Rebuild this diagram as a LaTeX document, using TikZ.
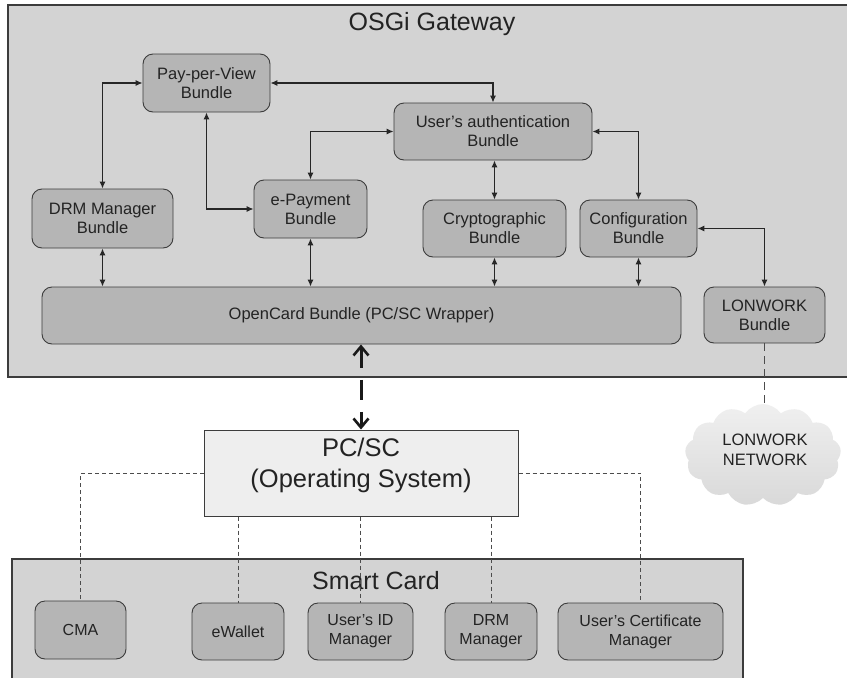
\documentclass[tikz,border=0pt]{standalone}
\usepackage{fontspec}
\setmainfont{Liberation Sans}
\usetikzlibrary{arrows.meta,shapes.symbols}

\definecolor{panelfill}{RGB}{211,211,211}
\definecolor{bundlefill}{RGB}{181,181,181}
\definecolor{osfill}{RGB}{238,238,238}
\definecolor{edgecol}{RGB}{60,60,60}
\definecolor{txtcol}{RGB}{35,35,35}

\tikzset{
  panel/.style={draw=edgecol, line width=1.4pt, fill=panelfill},
  bundle/.style={draw=edgecol, line width=0.9pt, fill=bundlefill, rounded corners=10pt,
    align=center, inner sep=0pt, text=txtcol,
    font=\fontsize{16.5}{19}\selectfont},
  card/.style={bundle, font=\fontsize{16}{19}\selectfont},
  link/.style={draw=black!85, line width=1.1pt,
    {Latex[length=7pt,width=6pt]}-{Latex[length=7pt,width=6pt]}},
  wire/.style={draw=black!70, line width=0.9pt, dash pattern=on 4pt off 3pt},
  bigtitle/.style={text=txtcol, font=\fontsize{25}{28}\selectfont},
  osbarb/.tip={Straight Barb[length=9pt,width=15pt,line width=2.6pt]},
}

\begin{document}
\begin{tikzpicture}[x=1pt,y=-1pt]
\useasboundingbox (0,0) rectangle (847,678);
\fill[white] (0,0) rectangle (847,678);

% OSGi gateway panel
\path[panel] (8,5) rectangle (852,377);
\node[bigtitle] (gwtitle) at (432,24) {OSGi Gateway};

\node[bundle, minimum width=127pt, minimum height=58pt] (ppv) at (206.5,83) {Pay-per-View\\Bundle};
\node[bundle, minimum width=198pt, minimum height=57pt] (ua) at (493,131.5) {User's authentication\\Bundle};
\node[bundle, minimum width=141pt, minimum height=59pt] (drm) at (102.5,218.5) {DRM Manager\\Bundle};
\node[bundle, minimum width=113pt, minimum height=58pt] (epay) at (310.5,209) {e-Payment\\Bundle};
\node[bundle, minimum width=143pt, minimum height=57pt] (crypto) at (494.5,228.5) {Cryptographic\\Bundle};
\node[bundle, minimum width=117pt, minimum height=57pt] (config) at (638.5,228.5) {Configuration\\Bundle};
\node[bundle, minimum width=639pt, minimum height=57pt] (opencard) at (361.5,315.5) {OpenCard Bundle (PC/SC Wrapper)};
\node[bundle, minimum width=121pt, minimum height=56pt] (lonb) at (764.5,315) {LONWORK\\Bundle};

% links between bundles
\draw[link] (drm.north) |- (ppv.west);
\draw[link] (ppv.south) |- (epay.west);
\draw[link] (ppv.east) -| (ua.north);
\draw[link] (epay.north) |- (ua.west);
\draw[link] (ua.south -| crypto.north) -- (crypto.north);
\draw[link] (ua.east) -| (config.north);
\draw[link] (config.east) -| (lonb.north);
\draw[link] (drm.south) -- (drm.south |- opencard.north);
\draw[link] (epay.south) -- (epay.south |- opencard.north);
\draw[link] (crypto.south) -- (crypto.south |- opencard.north);
\draw[link] (config.south) -- (config.south |- opencard.north);

% operating system layer
\node[draw=edgecol, line width=1pt, fill=osfill, minimum width=314pt, minimum height=86pt,
  inner sep=0pt] (pcsc) at (361,473) {};
\node[align=center, text=txtcol, font=\fontsize{25.5}{31}\selectfont] (pcsctxt) at (361,465)
  {PC/SC\\(Operating System)};

\draw[black!90, line width=3pt, dash pattern=on 20pt off 12pt, osbarb-osbarb]
  (opencard.south -| pcsc.north) -- (pcsc.north);

% LONWORK network cloud
\node[cloud, cloud puffs=13, cloud puff arc=110, aspect=1.5,
  minimum width=156pt, minimum height=102pt, inner sep=0pt,
  top color=gray!12, bottom color=gray!30, draw=none] (cloud) at (763,455) {};
\node[align=center, text=txtcol, font=\fontsize{16.5}{20}\selectfont] (cloudtxt) at (765,450) {LONWORK\\NETWORK};
\draw[black!70, line width=1.3pt, dash pattern=on 8pt off 5pt] (lonb.south) -- (lonb.south |- cloud.north);

% smart card panel
\path[panel] (12,559) rectangle (743,700);
\node[bigtitle] (sctitle) at (376,581) {Smart Card};

\node[card, minimum width=91pt, minimum height=58pt] (cma) at (80.5,630) {CMA};
\node[card, minimum width=92pt, minimum height=57pt] (ewallet) at (238,631.5) {eWallet};
\node[card, minimum width=105pt, minimum height=57pt] (uid) at (360.5,631.5) {User's ID\\Manager};
\node[card, minimum width=92pt, minimum height=57pt] (drmm) at (491,631.5) {DRM\\Manager};
\node[card, minimum width=165pt, minimum height=57pt] (ucert) at (640.5,631.5) {User's Certificate\\Manager};

% dashed wiring from PC/SC to the card applications
\draw[wire] (pcsc.west) -| (cma.north);
\draw[wire] (pcsc.south -| ewallet.north) -- (ewallet.north);
\draw[wire] (pcsc.south -| uid.north) -- (uid.north);
\draw[wire] (pcsc.south -| drmm.north) -- (drmm.north);
\draw[wire] (pcsc.east) -| (ucert.north);
\end{tikzpicture}
\end{document}
